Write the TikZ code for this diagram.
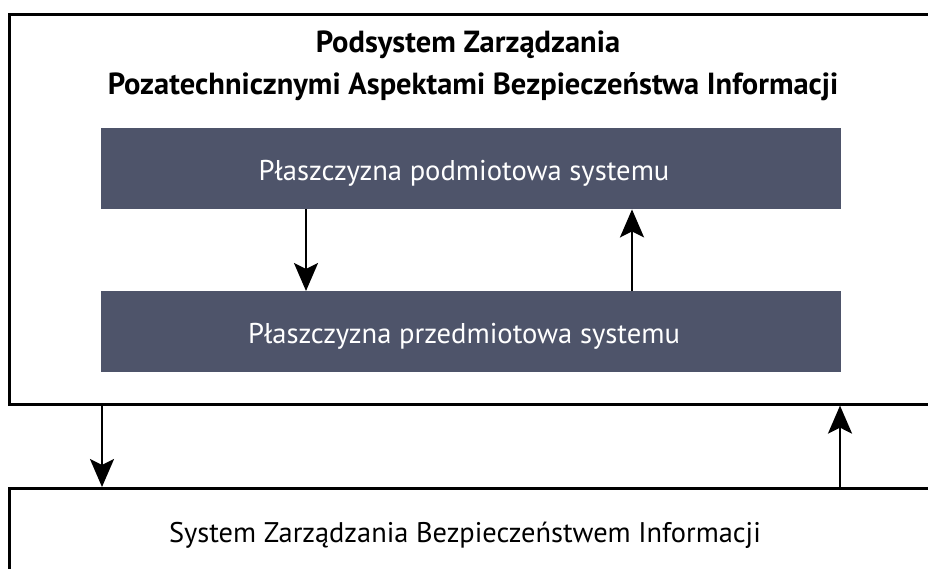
\documentclass[tikz,border=0pt]{standalone}
\usepackage{fontspec}
\setmainfont{PT Sans}
\usetikzlibrary{arrows.meta}
\definecolor{slate}{RGB}{78,84,106}
\tikzset{
  outerbox/.style={draw=black, line width=2.6pt, fill=white, inner sep=0pt},
  planebox/.style={fill=slate, inner sep=0pt},
  arr/.style={line width=2.4pt, -{Stealth[length=28pt,width=24pt,inset=6pt]}},
  titletext/.style={font=\fontsize{30.5}{36}\selectfont\bfseries, anchor=base, inner sep=0pt},
  planetext/.style={font=\fontsize{28.6}{34}\selectfont, text=white, anchor=base, inner sep=0pt},
  maintext/.style={font=\fontsize{28.4}{34}\selectfont, anchor=base, inner sep=0pt}
}
\begin{document}
\begin{tikzpicture}[x=1pt,y=-1pt]
\useasboundingbox (0,0) rectangle (928,569);
\clip (0,0) rectangle (928,569);
% outer boxes
\node[outerbox, minimum width=940pt, minimum height=390pt, anchor=north west] (top) at (8,13) {};
\node[outerbox, minimum width=940pt, minimum height=120pt, anchor=north west] (bottom) at (8,487) {};
% plane boxes
\node[planebox, minimum width=740pt, minimum height=81pt, anchor=north west] (p1) at (101,128) {};
\node[planebox, minimum width=740pt, minimum height=81pt, anchor=north west] (p2) at (101,291) {};
% texts
\node[titletext] (t1) at (468,53) {Podsystem Zarządzania};
\node[titletext] (t2) at (473,95) {Pozatechnicznymi Aspektami Bezpieczeństwa Informacji};
\node[planetext] (l1) at (464,181) {Płaszczyzna podmiotowa systemu};
\node[planetext] (l2) at (464,343) {Płaszczyzna przedmiotowa systemu};
\node[maintext] (l3) at (465,542) {System Zarządzania Bezpieczeństwem Informacji};
% arrow positions
\coordinate (xa) at (306,0);
\coordinate (xb) at (632,0);
\coordinate (xc) at (102,0);
\coordinate (xd) at (840,0);
\draw[arr] (p1.south -| xa) -- (p2.north -| xa);
\draw[arr] (p2.north -| xb) -- (p1.south -| xb);
\draw[arr] (top.south -| xc) -- (bottom.north -| xc);
\draw[arr] (bottom.north -| xd) -- (top.south -| xd);
\end{tikzpicture}
\end{document}
